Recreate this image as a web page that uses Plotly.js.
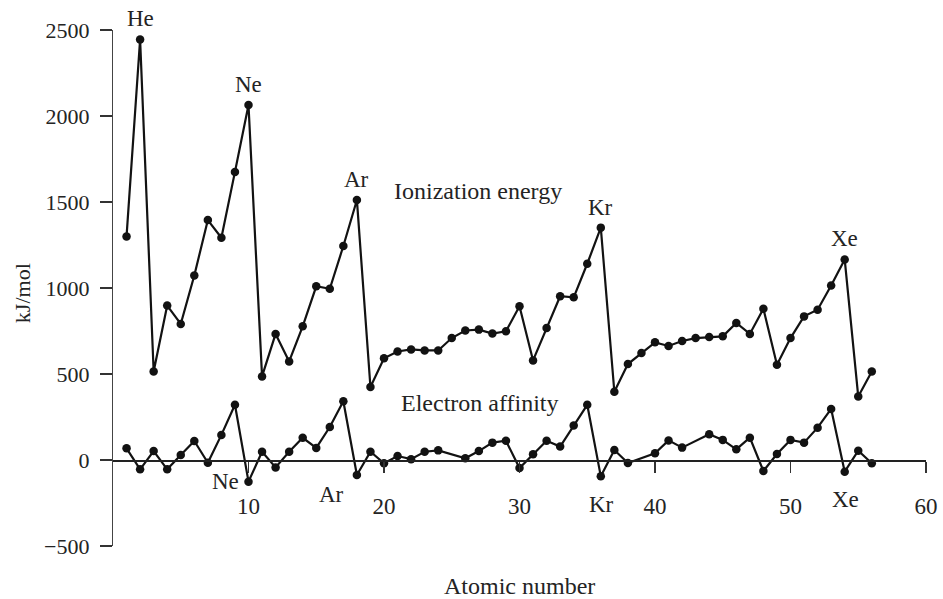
<!DOCTYPE html>
<html>
<head>
<meta charset="utf-8">
<script src="https://cdn.plot.ly/plotly-3.0.1.min.js"></script>
<style>html,body{margin:0;padding:0;background:#fff;}#chart{width:943px;height:599px;}</style>
</head>
<body>
<div id="chart"></div>
<script>
// Atomic numbers 1..56
var atomicNumber = [];
for (var i = 1; i <= 56; i++) atomicNumber.push(i);

// First ionization energy (kJ/mol)
var ionizationEnergy = [
  1300, 2445, 515, 898, 791, 1073, 1395, 1292, 1675, 2064,
  486, 733, 573, 777, 1010, 995, 1244, 1512, 424, 591,
  631, 643, 637, 637, 709, 753, 758, 735, 748, 894,
  579, 768, 952, 946, 1141, 1351, 397, 558, 622, 684,
  663, 692, 709, 715, 719, 797, 733, 879, 554, 709,
  835, 874, 1014, 1166, 369, 515
];

// Electron affinity (kJ/mol) (null = no point drawn)
var electronAffinity = [
  68, -54, 52, -54, 29, 111, -16, 146, 321, -126,
  48, -43, 48, 129, 70, 192, 342, -87, 48, -19,
  23, 5, 48, 56, null, 10, 52, 101, 112, -47,
  34, 112, 78, 200, 321, -95, 58, -18, null, 39,
  114, 72, null, 150, 117, 62, 130, -64, 35, 117,
  101, 188, 297, -68, 54, -19
];

var nobleZ = [2, 10, 18, 36, 54];
var nobleSymbol = ['He', 'Ne', 'Ar', 'Kr', 'Xe'];

var xTicks = [10, 20, 30, 40, 50, 60];
var yTicks = [-500, 0, 500, 1000, 1500, 2000, 2500];

var FONT = 'Liberation Serif, Times New Roman, serif';
var INK = '#121212';
var TXT = '#242424';

var traces = [
  {
    x: atomicNumber, y: ionizationEnergy, type: 'scatter', mode: 'lines+markers',
    line: {color: INK, width: 2.2}, marker: {color: INK, size: 8.5},
    cliponaxis: false, hoverinfo: 'x+y', showlegend: false
  },
  {
    x: atomicNumber, y: electronAffinity, type: 'scatter', mode: 'lines+markers',
    connectgaps: true,
    line: {color: INK, width: 2.2}, marker: {color: INK, size: 8.5},
    cliponaxis: false, hoverinfo: 'x+y', showlegend: false
  }
];

var annotations = [];
// Upper labels above ionization-energy peaks
nobleZ.forEach(function (z, k) {
  annotations.push({
    x: z, y: ionizationEnergy[z - 1], xref: 'x', yref: 'y',
    text: nobleSymbol[k], showarrow: false, xanchor: 'center', yanchor: 'bottom',
    yshift: 6, font: {family: FONT, size: 23, color: TXT}
  });
});
// Lower labels by electron-affinity minima
var lowerSpec = [
  {i: 1, xanchor: 'right', yanchor: 'middle', xshift: -8, yshift: 0},
  {i: 2, xanchor: 'right', yanchor: 'top', xshift: -11, yshift: -5},
  {i: 3, xanchor: 'center', yanchor: 'top', xshift: 1, yshift: -14},
  {i: 4, xanchor: 'center', yanchor: 'top', xshift: 1, yshift: -13}
];
lowerSpec.forEach(function (s) {
  var z = nobleZ[s.i];
  annotations.push({
    x: z, y: electronAffinity[z - 1], xref: 'x', yref: 'y',
    text: nobleSymbol[s.i], showarrow: false, xanchor: s.xanchor, yanchor: s.yanchor,
    xshift: s.xshift, yshift: s.yshift, font: {family: FONT, size: 23, color: TXT}
  });
});
// Series labels
annotations.push({
  x: 26.9, y: 1562, xref: 'x', yref: 'y', text: 'Ionization energy', showarrow: false,
  xanchor: 'center', yanchor: 'middle', font: {family: FONT, size: 24, color: TXT}
});
annotations.push({
  x: 27.1, y: 332, xref: 'x', yref: 'y', text: 'Electron affinity', showarrow: false,
  xanchor: 'center', yanchor: 'middle', font: {family: FONT, size: 24, color: TXT}
});
// Axis titles
annotations.push({
  x: 0.5, y: 0, xref: 'paper', yref: 'paper', text: 'Atomic number', showarrow: false,
  xanchor: 'center', yanchor: 'middle', yshift: -40, font: {family: FONT, size: 24, color: TXT}
});
annotations.push({
  x: 0, y: 0.49, xref: 'paper', yref: 'paper', text: 'kJ/mol', showarrow: false,
  textangle: -90, xanchor: 'center', yanchor: 'middle', xshift: -91,
  font: {family: FONT, size: 22, color: TXT}
});

var layout = {
  width: 943, height: 599,
  margin: {l: 113, r: 17, t: 30, b: 53, pad: 0},
  paper_bgcolor: '#ffffff', plot_bgcolor: '#ffffff',
  showlegend: false,
  xaxis: {
    range: [0, 60], tickvals: xTicks, ticktext: xTicks.map(String),
    ticks: 'outside', ticklen: 11, tickwidth: 1.5, tickcolor: '#333',
    showline: true, linecolor: '#222', linewidth: 1.5,
    anchor: 'free', position: 500 / 3000,
    showgrid: false, zeroline: false,
    ticklabelstandoff: 14,
    tickfont: {family: FONT, size: 23, color: TXT}
  },
  yaxis: {
    range: [-500, 2500], tickvals: yTicks, ticktext: yTicks.map(function (v) { return v < 0 ? '\u2212' + Math.abs(v) : String(v); }),
    ticks: 'outside', ticklen: 12, tickwidth: 1.5, tickcolor: '#333',
    showline: true, linecolor: '#444', linewidth: 1.2,
    showgrid: false, zeroline: false,
    ticklabelstandoff: 6,
    tickfont: {family: FONT, size: 22, color: TXT}
  },
  annotations: annotations
};

Plotly.newPlot('chart', traces, layout, {staticPlot: true, displayModeBar: false});
</script>
</body>
</html>
